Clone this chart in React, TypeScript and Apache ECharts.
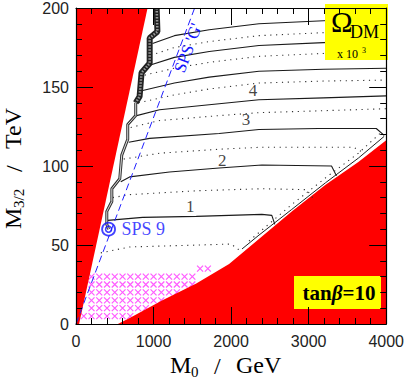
import React, { useEffect, useRef } from "react";
import * as echarts from "echarts";

// ---------- data (M0 in GeV, M3/2 in TeV) ----------
const leftExcluded = [[0, 0], [40, 0], [923, 200], [0, 200]];
const bottomExcluded = [
  [540, 0], [692, 3.75], [1115, 15], [1551, 25.6], [1974, 38], [2359, 53.75],
  [2782, 71.25], [3218, 88.1], [3641, 102.5], [4000, 116.25], [4000, 0],
];

const stairUpper = [[1040, 200], [1050, 185], [950, 181], [950, 165], [845, 159], [820, 144], [770, 140]];
const stairLower = [
  [770, 140], [770, 131.9], [667, 126.25], [667, 116.9], [590, 106.9], [564, 91.9],
  [462, 85.6], [462, 77.5], [397, 71.25], [397, 63.1], [420, 60],
];

const edgeSolid = [[2141, 47.5], [2359, 56.25], [2782, 72.5], [3218, 89.4], [3641, 105], [3974, 118.75]];
const edgeDotted = [[2231, 52.5], [2782, 75.6], [3218, 92.5], [3641, 108.1], [3949, 121.9]];

// solid contours: Omega_DM x 10^3 = 1..7
const omega1 = [[410, 65.6], [859, 67.5], [1551, 68.1], [2397, 69.4], [2525, 68.75], [2564, 63.1]];
const omega2 = [[577, 90], [692, 93.1], [1205, 96.25], [1846, 98.75], [2397, 100.6], [3295, 100], [3359, 93.75]];
const omega3 = [[680, 115], [949, 117.5], [1846, 120.6], [2359, 123.1], [3128, 123.75], [3872, 123.75], [3974, 119.4]];
const omega4 = [[782, 131.9], [1077, 135.6], [1846, 139.4], [2359, 141.9], [3192, 143.1], [4000, 144.4]];
const omega5 = [[833, 147.5], [1269, 152.5], [1718, 156.25], [2359, 160], [3192, 161.25], [4000, 161.9]];
const omega6 = [[949, 163.75], [1269, 168.75], [1718, 172.5], [2359, 176.25], [3192, 178.1], [4000, 179.4]];
const omega7 = [[987, 177.5], [1269, 182.5], [1718, 186.25], [2359, 190], [3192, 191.9], [4000, 193.75]];
// dotted contours: half values
const omega05 = [[320, 45], [692, 48.75], [1590, 50], [2000, 50.6], [2102, 46.9]];
const omega15 = [[474, 80], [692, 81.9], [1590, 84.4], [2397, 85.6], [2974, 85], [3051, 80]];
const omega25 = [[615, 104.4], [1077, 108.1], [1846, 110.6], [2397, 111.9], [3577, 111.9], [3718, 108.1]];
const omega35 = [[705, 124.4], [1077, 128.75], [1846, 131.9], [2359, 133.75], [3192, 135], [4000, 136.25]];
const omega45 = [[808, 140], [1269, 145], [1718, 148.75], [2359, 152.5], [3192, 153.75], [4000, 154.4]];
const omega55 = [[885, 157.5], [1269, 161.9], [1718, 165.6], [2359, 169.4], [3192, 171.25], [4000, 172.5]];
const omega65 = [[962, 170], [1269, 175], [1718, 178.75], [2359, 182.5], [3192, 184.4], [4000, 185.6]];

const contourLabelNames = ["1", "2", "3", "4"];
const contourLabelPos = [[1474, 74.4], [1885, 103.75], [2192, 129.4], [2282, 148]];

const spsGLine = [[0, 0], [1530, 200]];
const sps9 = [420, 60];

// excluded (magenta crosses) grid rows
const crossRowM32 = [5, 10, 15, 20, 25, 30, 35];
const crossRowFrom = [100, 200, 200, 200, 200, 200, 1600];
const crossRowTo = [700, 900, 1100, 1300, 1500, 1500, 1700];
const crossStep = 100;

// ---------- helpers ----------
const crossPoints: number[][] = [];
crossRowM32.forEach((y, i) => {
  for (let x = crossRowFrom[i]; x <= crossRowTo[i]; x += crossStep) crossPoints.push([x, y]);
});

const polySeries = (pts: number[][], color: string, z: number) => ({
  type: "custom",
  coordinateSystem: "cartesian2d",
  data: pts,
  z,
  silent: true,
  clip: true,
  encode: { x: 0, y: 1 },
  renderItem: (params: any, api: any) => {
    if (params.dataIndex !== 0) return null as any;
    const points = pts.map((p) => api.coord(p));
    return { type: "polygon", shape: { points }, style: { fill: color } };
  },
});

const line = (pts: number[][], lineStyle: any, z = 4) => ({
  type: "line",
  data: pts,
  symbol: "none",
  showSymbol: false,
  silent: true,
  z,
  lineStyle,
});

const solidStyle = { color: "#1a1a1a", width: 1.1 };
const dotStyle = { color: "#333", width: 1.1, type: [1.2, 4.6] };

const serif = '"Liberation Serif", "Times New Roman", serif';
const sans = '"Liberation Sans", Arial, sans-serif';

const axisCommon = {
  type: "value",
  z: 10,
  axisLine: { show: true, onZero: false, lineStyle: { color: "#000", width: 1.2 } },
  axisTick: { show: true, inside: true, length: 17, lineStyle: { color: "#000", width: 1 } },
  minorTick: { show: true, splitNumber: 5, length: 6, lineStyle: { color: "#000", width: 1 } },
  splitLine: { show: false },
  minorSplitLine: { show: false },
};

const plain = (v: number) => String(v);

const txt = (x: number, y: number, text: string, font: string, fill = "#000", extra: any = {}) => ({
  type: "text", z: 11, x, y, ...extra,
  style: { text, font, fill, align: "left", verticalAlign: "middle", textAlign: "left", textVerticalAlign: "middle" },
});

const option: any = {
  animation: false,
  backgroundColor: "#fff",
  grid: { left: 76, top: 4, width: 312, height: 320, containLabel: false },
  xAxis: [
    {
      ...axisCommon, min: 0, max: 4000, interval: 1000, position: "bottom",
      axisLabel: { show: true, margin: 9, fontSize: 16, fontFamily: sans, color: "#222", showMinLabel: true, showMaxLabel: true, formatter: plain },
    },
    { ...axisCommon, min: 0, max: 4000, interval: 1000, position: "top", axisLabel: { show: false } },
  ],
  yAxis: [
    {
      ...axisCommon, min: 0, max: 200, interval: 50, position: "left",
      axisLabel: { show: true, margin: 7, fontSize: 16, fontFamily: sans, color: "#222", showMinLabel: true, showMaxLabel: true, formatter: plain },
    },
    { ...axisCommon, min: 0, max: 200, interval: 50, position: "right", axisLabel: { show: false } },
  ],
  series: [
    {
      type: "scatter",
      data: crossPoints,
      symbol: "path://M0,0L10,10M10,0L0,10",
      symbolSize: 6,
      silent: true,
      z: 2,
      itemStyle: { color: "none", borderColor: "#ff33ff", borderWidth: 1.2 },
    },
    polySeries(leftExcluded, "#ff0000", 3),
    polySeries(bottomExcluded, "#ff0000", 3),
    line(omega05, dotStyle),
    line(omega15, dotStyle),
    line(omega25, dotStyle),
    line(omega35, dotStyle),
    line(omega45, dotStyle),
    line(omega55, dotStyle),
    line(omega65, dotStyle),
    line(omega1, solidStyle),
    line(omega2, solidStyle),
    line(omega3, solidStyle),
    line(omega4, solidStyle),
    line(omega5, solidStyle),
    line(omega6, solidStyle),
    line(omega7, solidStyle),
    line(edgeSolid, { color: "#222", width: 1 }),
    line(edgeDotted, dotStyle),
    line(stairUpper, { color: "#222", width: 6 }, 5),
    line(stairUpper, { color: "#999", width: 2.5, type: [1.5, 1.5] }, 5),
    line(stairLower, { color: "#333", width: 3 }, 5),
    line(stairLower, { color: "#ddd", width: 1 }, 5),
    line(spsGLine, { color: "#2020ff", width: 1, type: [7, 4] }, 5),
    {
      type: "scatter",
      data: contourLabelPos.map((p, i) => ({ value: p, name: contourLabelNames[i] })),
      symbolSize: 1,
      silent: true,
      z: 6,
      itemStyle: { color: "rgba(0,0,0,0)" },
      label: { show: true, position: "inside", formatter: "{b}", fontSize: 17, fontFamily: serif, color: "#111" },
    },
    {
      type: "scatter",
      data: [sps9],
      symbol: "circle",
      symbolSize: 13,
      silent: true,
      z: 6,
      itemStyle: { color: "none", borderColor: "#1414ff", borderWidth: 1.8 },
      label: { show: true, position: "right", distance: 4, formatter: "SPS 9", fontSize: 18, fontFamily: serif, color: "#1414ff" },
    },
    {
      type: "scatter",
      data: [sps9],
      symbol: "circle",
      symbolSize: 6,
      silent: true,
      z: 6,
      itemStyle: { color: "none", borderColor: "#1414ff", borderWidth: 1.6 },
    },
  ],
  graphic: [
    { type: "rect", z: 7, shape: { x: 325, y: 4, width: 63, height: 56 }, style: { fill: "#ffff00" } },
    txt(331, 22, "Ω", `29px ${serif}`),
    txt(350, 32, "DM", `18px ${serif}`),
    txt(337, 54, "x 10", `12px ${serif}`),
    txt(362, 50, "3", `8px ${serif}`),
    { type: "rect", z: 7, shape: { x: 294, y: 276, width: 87, height: 33 }, style: { fill: "#ffff00" } },
    {
      type: "text", z: 11, x: 339, y: 293,
      style: {
        text: "{a|tan}{b|β}{a|=10}",
        align: "center", verticalAlign: "middle", textAlign: "center", textVerticalAlign: "middle",
        rich: {
          a: { font: `bold 21px ${serif}`, fill: "#000", color: "#000" },
          b: { font: `italic bold 21px ${serif}`, fill: "#000", color: "#000" },
        },
      },
    },
    {
      type: "text", z: 11, x: 188, y: 48, rotation: 1.217,
      style: { text: "SPS 'G'", font: `17px ${serif}`, fill: "#1414ff", align: "center", verticalAlign: "middle", textAlign: "center", textVerticalAlign: "middle" },
    },
    // x axis title
    txt(170, 365, "M", `24px ${serif}`),
    txt(191, 372, "0", `15px ${serif}`),
    txt(214, 366, "/", `24px ${serif}`),
    txt(236, 365, "GeV", `24px ${serif}`),
    // y axis title (rotated)
    {
      type: "group", x: 13, y: 229, rotation: Math.PI / 2,
      children: [
        txt(0, 0, "M", `24px ${serif}`),
        txt(21, 6, "3/2", `15px ${serif}`),
        txt(57, 1, "/", `24px ${serif}`),
        txt(80, 0, "TeV", `24px ${serif}`),
      ],
    },
  ],
};

export default function App() {
  const ref = useRef<HTMLDivElement>(null);
  useEffect(() => {
    if (!ref.current) return;
    const chart = echarts.init(ref.current, null, { renderer: "svg" });
    chart.setOption(option);
    return () => chart.dispose();
  }, []);
  return <div ref={ref} style={{ position: "absolute", left: 0, top: 0, width: 407, height: 381 }} />;
}
